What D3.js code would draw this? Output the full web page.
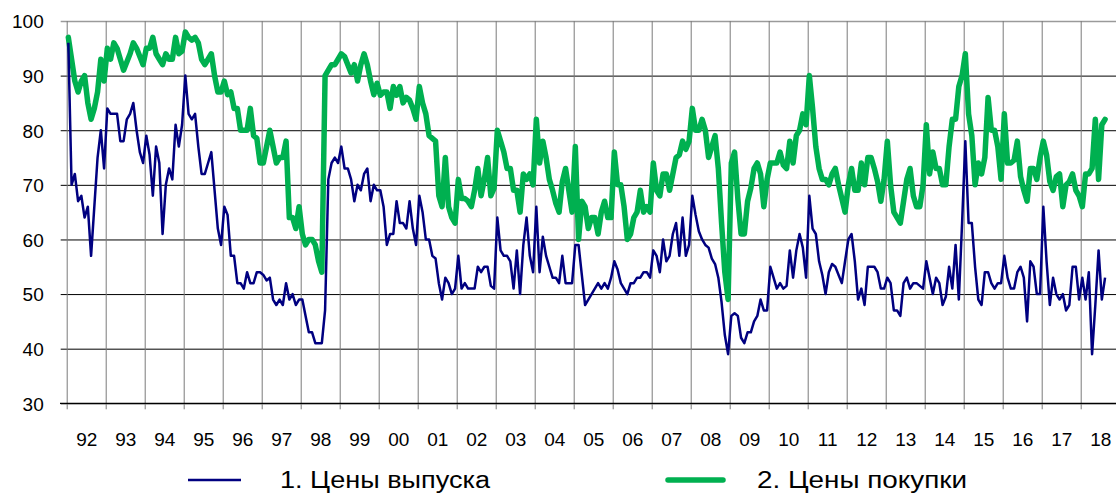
<!DOCTYPE html>
<html><head><meta charset="utf-8">
<script src="https://cdn.jsdelivr.net/npm/d3@7"></script>
<style>body{margin:0;background:#fff}svg{display:block}</style>
</head><body>
<svg id="c" width="1116" height="496"></svg>
<script>
// ---- data ----
const yearLabels = ["92","93","94","95","96","97","98","99","00","01","02","03","04","05","06","07","08","09","10","11","12","13","14","15","16","17","18"];
const yTicks = [30,40,50,60,70,80,90,100];
const seriesNames = ["1. Цены выпуска", "2. Цены покупки"];
// monthly values, Jan 1992 .. Aug 2018
const outputPrices = [
96,70,72,67,68,64,66,57,66,75,80,73,
84,83,83,83,78,78,82,83,85,80,76,74,
79,75.5,68,77,74,61,70,73,71,81,77,81,
90,83,82,83,77,72,72,74,76,69,62,59,
66,64.5,57,57,52,52,51,54,52,52,54,54,
53.5,52.5,53,49,48,49,48,52,49,50,48,49,
49,46,43,43,41,41,41,47,71,74,75,74,
77,73,73,71,67,70,69,72,73,67,70,69,
69,66,59,61,61,67,63,63,62,67,62,59,
68,65,60,60,57,56.5,52,49,53,52,50,51,
57,51,52,51,51,51,55,54,55,55,51.5,51,
64,58,57,57,56,51,58,50,59,64,57,54,
66,54,60.5,57,55,53,53,52,57,52,52,52,
59,59,53.5,48,49,50,51,52,51,52,51,53,
56,54.5,52,51,50,52,52,53,53,54,54,53,
58,57,54,60,56,57,61,63,57,64,57,59,
68,64.5,61.5,60,59,58.5,56.5,55.5,53,48.5,42.5,39,
46,46.5,46,42,41,43,43,45,46,49,47,47,
55,53,51,52,51,51.5,58,53,58,61,58.5,53,
68,62,61,56,53.5,50,54,55.5,55,53.5,52,56,
60,61,56,49,51,48,55,55,55,54,51,51,
53,52,47,47,46,52,53,51,52,52,51.5,51,
56,53,50,53,52,48,49.5,55,51,59,49,63,
78,63,63,55,49,48,54,54,52,51,52,52,
57,53,51,51,54,55,53,45,56,55,50,50,
66,56,48,53,50,49,50,47,48,55,55,49,
53,49,54,39,48,58,49,53
];
const purchasePrices = [
97,93,89,87,89,90,85,82,84,87,93,89,
95,93,96,95,93,91,92.5,94,96,95,93.5,92,
95,95,97,94,93,92,94,93,93,97,94,94.5,
98,97,96.5,97,96,93,92,93,94,90,87,87,
89,86.5,87,84,84,80,80,80,84,79,78.5,74,
74,77,80,77,74,75,75,78,64,64,62,66,
61,59,60,60,59,56,54,90,91,92,92,93,
94,93.5,92,90.5,92,89,92,94,92,89,86.5,88.6,
86.4,87,87,84,88,86.4,88,85,86,85.5,84,82,
88,85,83,79,78.5,78,68,66,75,66,64,63,
71,67.5,67.5,67,66,69,73,68,71,75,68,69.4,
80,78,76,73,73,69,69,65,72,71,72,70,
82,74,78,75,71,69,66.6,65,70.6,73,69,65,
77,60,67,66,62,64,64,61,65,67,64,64,
76,70,70,66,60,61,64,65,69,65,66,65,
74,69,68,72,72,69,72,75,75.5,78,76.5,78,
84,80,80,82,80,75,77,79,73,63,54,49,
74,76,67.5,61,61,67,69.4,73,74,72,66,71,
74,74,74,76,73.6,73,78,74,79,80,83,81,
90,84,77,73,71,71,70,72,73,70,67.5,65,
70,73,69,69,74,70,75,75,73,70.6,67,71,
78,70,65,64,63,67,71,73,68,66,66,70,
81,72,76,73,73,70,70,77,82,82,88,90,
94,83,79,70,74,72,75,86,80,80,77,71,
83,74,74,74.5,78,71.5,69,67,73,73,71,75,
78,75.5,70.6,69,71.5,72,66,70,70.6,72,69,68,
66,72,72,73,82,71,81,82
];

// ---- layout ----
const FONT = "'Liberation Sans', Arial, sans-serif";
const x0 = 66.7, monthW = 3.25, nMonths = yearLabels.length * 12;
const yTop = 21, yBot = 403.3, xRight = 1116;
const svg = d3.select("#c");
const x = d3.scaleLinear().domain([0, nMonths]).range([x0, x0 + nMonths * monthW]);
const y = d3.scaleLinear().domain([30, 100]).range([yBot, yTop]);

// horizontal grid + y labels
const yAxis = d3.axisLeft(y).tickValues(yTicks).tickSize(-(xRight - x0)).tickSizeOuter(0).tickPadding(23);
const gy = svg.append("g").attr("transform", `translate(${x0},0)`).call(yAxis);
gy.select(".domain").remove();
gy.selectAll(".tick line").attr("x1", -6).attr("stroke", "#000").attr("stroke-width", 1)
  .filter(d => d === 100).attr("stroke", "#9a9a9a").attr("stroke-width", 1.5).attr("x1", -6);
gy.selectAll(".tick text").attr("font-family", FONT).attr("font-size", 19).attr("fill", "#000").attr("dy", "0.36em");

// vertical grid at year boundaries
const boundaries = d3.range(0, nMonths + 1, 12);
const xAxis = d3.axisBottom(x).tickValues(boundaries).tickSize(6).tickSizeOuter(0).tickFormat("");
const gx = svg.append("g").attr("transform", `translate(0,${yBot})`).call(xAxis);
gx.select(".domain").remove();
gx.selectAll(".tick line").attr("y1", -(yBot - yTop)).attr("y2", 6).attr("stroke", "#7a7a7a").attr("stroke-width", 1);

// bottom axis line
svg.append("line").attr("x1", 60).attr("x2", xRight).attr("y1", yBot).attr("y2", yBot).attr("stroke", "#000").attr("stroke-width", 1.3);
// year labels
const centers = yearLabels.map((d, i) => i * 12 + 6);
const xLab = d3.axisBottom(x).tickValues(centers).tickSize(0).tickPadding(0).tickFormat((d, i) => yearLabels[i]);
const gl = svg.append("g").attr("transform", `translate(0,${yBot})`).call(xLab);
gl.select(".domain").remove();
gl.selectAll(".tick text").attr("font-family", FONT).attr("font-size", 19).attr("fill", "#000").attr("dy", null).attr("y", 42.4);

// lines
const line = d3.line().x((d, i) => x(i + 0.5)).y(d => y(d));
svg.append("path").datum(purchasePrices).attr("d", line).attr("fill", "none")
  .attr("stroke", "#00B050").attr("stroke-width", 5.5).attr("stroke-linejoin", "round").attr("stroke-linecap", "round");
svg.append("path").datum(outputPrices).attr("d", line).attr("fill", "none")
  .attr("stroke", "#000080").attr("stroke-width", 2.5).attr("stroke-linejoin", "round");

// legend
const leg = [
  {name: seriesNames[0], color: "#000080", w: 2.5, lx1: 188, lx2: 241, tx: 280, cap: "butt"},
  {name: seriesNames[1], color: "#00B050", w: 5.5, lx1: 668, lx2: 723, tx: 757, cap: "round"}
];
leg.forEach(l => {
  svg.append("line").attr("x1", l.lx1).attr("x2", l.lx2).attr("y1", 480).attr("y2", 480)
    .attr("stroke", l.color).attr("stroke-width", l.w).attr("stroke-linecap", l.cap);
  svg.append("text").attr("x", l.tx).attr("y", 487.5).attr("font-family", FONT).attr("font-size", 23)
    .attr("fill", "#000").attr("textLength", 210).attr("lengthAdjust", "spacingAndGlyphs").text(l.name);
});
</script>
</body></html>
